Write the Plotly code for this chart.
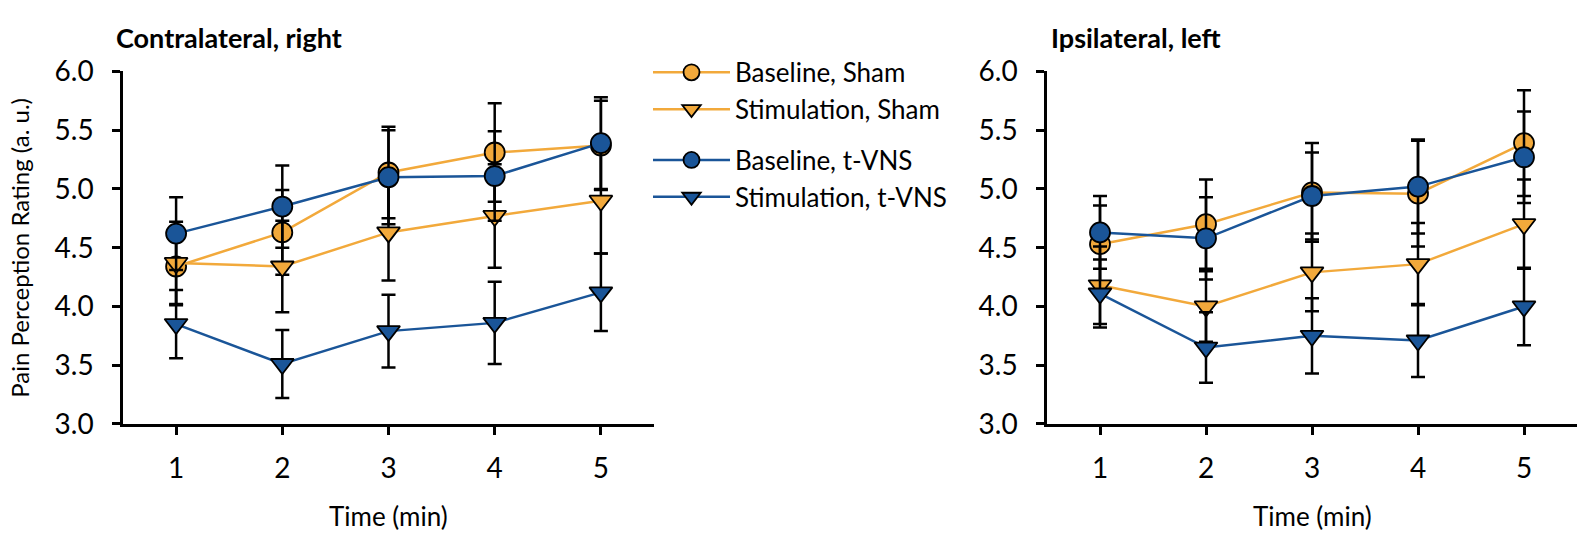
import plotly.graph_objects as go

time_min = [1, 2, 3, 4, 5]
tick_labels = ["1", "2", "3", "4", "5"]
y_ticks = [3.0, 3.5, 4.0, 4.5, 5.0, 5.5, 6.0]

series_names = ["Baseline, Sham", "Stimulation, Sham", "Baseline, t-VNS", "Stimulation, t-VNS"]

# Contralateral, right
contra_baseline_sham = [4.34, 4.63, 5.14, 5.31, 5.37]
contra_baseline_sham_err = [0.33, 0.36, 0.39, 0.42, 0.38]
contra_stim_sham = [4.37, 4.34, 4.63, 4.77, 4.90]
contra_stim_sham_err = [0.35, 0.39, 0.41, 0.44, 0.45]
contra_baseline_tvns = [4.62, 4.85, 5.10, 5.11, 5.39]
contra_baseline_tvns_err = [0.31, 0.35, 0.40, 0.38, 0.39]
contra_stim_tvns = [3.85, 3.51, 3.79, 3.86, 4.12]
contra_stim_tvns_err = [0.29, 0.29, 0.31, 0.35, 0.33]

# Ipsilateral, left
ipsi_baseline_sham = [4.53, 4.70, 4.97, 4.96, 5.39]
ipsi_baseline_sham_err = [0.33, 0.38, 0.42, 0.45, 0.45]
ipsi_stim_sham = [4.18, 4.00, 4.29, 4.36, 4.70]
ipsi_stim_sham_err = [0.33, 0.30, 0.33, 0.35, 0.38]
ipsi_baseline_tvns = [4.63, 4.58, 4.94, 5.02, 5.27]
ipsi_baseline_tvns_err = [0.31, 0.35, 0.37, 0.40, 0.39]
ipsi_stim_tvns = [4.11, 3.65, 3.75, 3.71, 4.00]
ipsi_stim_tvns_err = [0.29, 0.30, 0.32, 0.31, 0.33]

ORANGE = "#F2A93B"
BLUE = "#1A5598"
FONT = "Lato"

styles = [
    (ORANGE, "circle", "sham"),
    (ORANGE, "triangle-down", "sham"),
    (BLUE, "circle", "tvns"),
    (BLUE, "triangle-down", "tvns"),
]

panels = [
    ("x", "y", [contra_baseline_sham, contra_stim_sham, contra_baseline_tvns, contra_stim_tvns],
     [contra_baseline_sham_err, contra_stim_sham_err, contra_baseline_tvns_err, contra_stim_tvns_err], True),
    ("x2", "y2", [ipsi_baseline_sham, ipsi_stim_sham, ipsi_baseline_tvns, ipsi_stim_tvns],
     [ipsi_baseline_sham_err, ipsi_stim_sham_err, ipsi_baseline_tvns_err, ipsi_stim_tvns_err], False),
]

fig = go.Figure()
for xa, ya, vals, errs, show in panels:
    for name, (col, sym, grp), v, e in zip(series_names, styles, vals, errs):
        fig.add_trace(go.Scatter(
            x=time_min, y=v, xaxis=xa, yaxis=ya, name=name, legendgroup=grp,
            showlegend=show, mode="lines+markers",
            line=dict(color=col, width=2.5),
            marker=dict(symbol=sym, size=20, color=col, line=dict(color="black", width=1.8)),
            error_y=dict(type="data", array=e, visible=True, color="black", thickness=2.5, width=7),
        ))

W, H = 1579, 544
def px_x(p):
    return p / W
def px_y(p):
    return 1 - p / H

ydom = [px_y(433), px_y(57)]
axis_common = dict(showline=True, linecolor="black", linewidth=2.5, ticks="outside",
                   ticklen=8, tickwidth=2.5, tickcolor="black", showgrid=False, zeroline=False,
                   tickfont=dict(family=FONT, size=28, color="black"))

fig.update_layout(
    width=W, height=H, margin=dict(l=0, r=0, t=0, b=0),
    plot_bgcolor="white", paper_bgcolor="white",
    xaxis=dict(domain=[px_x(123), px_x(654)], range=[0.5, 5.5], tickvals=time_min, ticktext=tick_labels,
               anchor="y", ticklabelstandoff=10, **axis_common),
    yaxis=dict(domain=ydom, range=[3, 6], tickvals=y_ticks, tickformat=".1f",
               anchor="x", ticklabelstandoff=13, **axis_common),
    xaxis2=dict(domain=[px_x(1047), px_x(1577)], range=[0.5, 5.5], tickvals=time_min, ticktext=tick_labels,
                anchor="y2", ticklabelstandoff=10, **axis_common),
    yaxis2=dict(domain=ydom, range=[3, 6], tickvals=y_ticks, tickformat=".1f",
                anchor="x2", ticklabelstandoff=13, **axis_common),
    legend=dict(x=px_x(648), y=px_y(33), xanchor="left", yanchor="top", traceorder="grouped",
                tracegroupgap=14, itemwidth=77, font=dict(family=FONT, size=26, color="black"),
                bgcolor="rgba(0,0,0,0)"),
    showlegend=True,
)

annots = [
    dict(text="<b>Contralateral, right</b>", x=px_x(114), y=px_y(21), xanchor="left", size=27),
    dict(text="<b>Ipsilateral, left</b>", x=px_x(1049), y=px_y(21), xanchor="left", size=27),
    dict(text="Time (min)", x=px_x(388), y=px_y(531), xanchor="center", size=26),
    dict(text="Time (min)", x=px_x(1312), y=px_y(531), xanchor="center", size=26),
]
for a in annots:
    fig.add_annotation(text=a["text"], x=a["x"], y=a["y"], xref="paper", yref="paper",
                       xanchor=a["xanchor"], yanchor="middle", showarrow=False,
                       font=dict(family=FONT, size=a["size"], color="black"))
fig.add_annotation(text="Pain Perception Rating (a. u.)", x=px_x(20), y=px_y(245), xref="paper", yref="paper",
                   xanchor="center", yanchor="middle", textangle=-90, showarrow=False,
                   font=dict(family=FONT, size=24, color="black"))

fig.write_html("out.html")
